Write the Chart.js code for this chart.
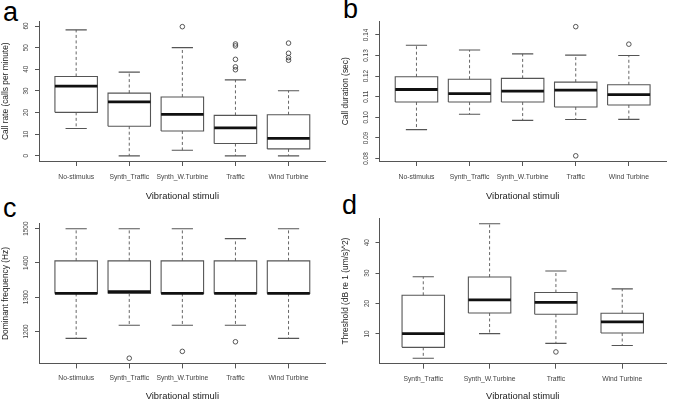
<!DOCTYPE html>
<html><head><meta charset="utf-8">
<script src="https://cdn.jsdelivr.net/npm/chart.js@4"></script>
<style>
html,body{margin:0;padding:0;background:#fff;width:685px;height:403px;overflow:hidden;position:relative;font-family:"Liberation Sans",Arial,sans-serif}
canvas{position:absolute}
.lbl{position:absolute;font-size:27px;line-height:1;color:#000;font-family:"Liberation Sans",Arial,sans-serif}
</style></head><body>
<div class="lbl" style="left:3px;top:-1px">a</div>
<div class="lbl" style="left:343px;top:-4px">b</div>
<div class="lbl" style="left:3px;top:195px">c</div>
<div class="lbl" style="left:342px;top:192px">d</div>
<canvas id="ca" width="335" height="203" style="left:0;top:0"></canvas>
<canvas id="cb" width="345" height="203" style="left:340px;top:0"></canvas>
<canvas id="cc" width="335" height="200" style="left:0;top:203px"></canvas>
<canvas id="cd" width="345" height="200" style="left:340px;top:203px"></canvas>
<script>
// ---------- data ----------
const stimuli5 = ["No-stimulus", "Synth_Traffic", "Synth_W.Turbine", "Traffic", "Wind Turbine"];
const stimuli4 = ["Synth_Traffic", "Synth_W.Turbine", "Traffic", "Wind Turbine"];

// (a) call rate
const rateMin = [12.6, 0, 2.6, 0, 0];
const rateQ1  = [20.1, 13.7, 11.5, 5.7, 3.2];
const rateMed = [32.2, 24.9, 19.2, 12.9, 8.1];
const rateQ3  = [36.7, 29.0, 27.2, 18.7, 19.0];
const rateMax = [58.2, 38.7, 50.0, 35.1, 30.1];
const rateOut = [[], [], [59.7], [51.7, 50.8, 44.6, 41.1, 39.8], [52.1, 47.4, 45.4, 44.2]];
const rateTicks = [0, 10, 20, 30, 40, 50, 60];

// (b) call duration
const durMin = [0.0940, 0.1015, 0.0985, 0.0989, 0.0990];
const durQ1  = [0.1074, 0.1074, 0.1074, 0.1050, 0.1060];
const durMed = [0.1135, 0.1115, 0.1127, 0.1132, 0.1110];
const durQ3  = [0.1197, 0.1185, 0.1189, 0.1171, 0.1158];
const durMax = [0.1350, 0.1327, 0.1308, 0.1302, 0.1300];
const durOut = [[], [], [], [0.1440, 0.0813], [0.1355]];
const durTicks = [0.08, 0.09, 0.10, 0.11, 0.12, 0.13, 0.14];

// (c) dominant frequency
const freqMin = [1180, 1218, 1218, 1218, 1180];
const freqQ1  = [1311, 1311, 1311, 1311, 1311];
const freqMed = [1311, 1316.5, 1311, 1311, 1311];
const freqQ3  = [1406, 1406, 1406, 1406, 1406];
const freqMax = [1500, 1500, 1500, 1471, 1500];
const freqOut = [[], [1122], [1142], [1170], []];
const freqTicks = [1200, 1300, 1400, 1500];

// (d) threshold
const thrMin = [2.0, 10.1, 6.9, 6.2];
const thrQ1  = [5.6, 16.9, 16.5, 10.3];
const thrMed = [10.1, 21.2, 20.4, 14.0];
const thrQ3  = [22.7, 28.7, 23.6, 16.8];
const thrMax = [28.8, 46.2, 30.7, 24.8];
const thrOut = [[], [], [4.1], []];
const thrTicks = [10, 20, 30, 40];

// ---------- drawing ----------
const FAM = "'Liberation Sans', Arial, sans-serif";
const AX = '#555';

function boxplot(id, cats, mn, q1, md, q3, mx, outs, cfg) {
  const hw = cfg.boxHalf, cw = cfg.boxHalf / 2;
  const box = [], med = [], wh = [], cap = [], out = [];
  cats.forEach((c, i) => {
    const x = i + 1;
    box.push({x: x - hw, y: q1[i]}, {x: x + hw, y: q1[i]}, {x: x + hw, y: q3[i]},
             {x: x - hw, y: q3[i]}, {x: x - hw, y: q1[i]}, {x: x, y: null});
    med.push({x: x - hw, y: md[i]}, {x: x + hw, y: md[i]}, {x: x, y: null});
    wh.push({x: x, y: q3[i]}, {x: x, y: mx[i]}, {x: x, y: null},
            {x: x, y: q1[i]}, {x: x, y: mn[i]}, {x: x, y: null});
    cap.push({x: x - cw, y: mx[i]}, {x: x + cw, y: mx[i]}, {x: x, y: null},
             {x: x - cw, y: mn[i]}, {x: x + cw, y: mn[i]}, {x: x, y: null});
    outs[i].forEach(v => out.push({x: x, y: v}));
  });
  const line = {showLine: true, spanGaps: false, pointRadius: 0, fill: false, tension: 0};
  new Chart(document.getElementById(id), {
    type: 'scatter',
    data: {datasets: [
      Object.assign({data: med, borderColor: '#111', borderWidth: 2.8, order: 1, borderCapStyle: 'butt'}, line),
      Object.assign({data: box, borderColor: '#555', borderWidth: 1.1, order: 2, borderJoinStyle: 'miter'}, line),
      Object.assign({data: cap, borderColor: '#555', borderWidth: 1.1, order: 3}, line),
      Object.assign({data: wh, borderColor: '#666', borderWidth: 1, borderDash: [3, 2.5], order: 4}, line),
      {data: out, showLine: false, pointRadius: 2.3, pointStyle: 'circle', borderColor: '#444',
       backgroundColor: 'rgba(0,0,0,0)', pointBorderWidth: 0.9, borderWidth: 0.9, order: 5}
    ]},
    options: {
      responsive: false, animation: false, events: [],
      layout: {padding: {top: cfg.top, right: cfg.right, left: 0, bottom: 0}},
      plugins: {legend: {display: false}, tooltip: {enabled: false}},
      scales: {
        x: {
          type: 'linear', min: cfg.xmin, max: cfg.xmax,
          afterBuildTicks: s => { s.ticks = cats.map((c, i) => ({value: i + 1})); },
          afterFit: s => { s.height = cfg.xh; },
          grid: {display: true, drawOnChartArea: false, drawTicks: true, tickLength: 5, color: AX, lineWidth: 1},
          border: {display: true, color: AX, width: 1},
          ticks: {autoSkip: false, maxRotation: 0, minRotation: 0, padding: cfg.xpad, color: '#444',
                  font: {size: 6.8, family: FAM}, callback: v => cats[Math.round(v) - 1]},
          title: {display: true, text: 'Vibrational stimuli', color: '#222',
                  font: {size: 9.4, family: FAM}, padding: {top: 0, bottom: cfg.xtpad}}
        },
        y: {
          type: 'linear', min: cfg.ymin, max: cfg.ymax,
          afterBuildTicks: s => { s.ticks = cfg.ticks.map(v => ({value: v})); },
          afterFit: s => { s.width = cfg.yw; },
          grid: {display: true, drawOnChartArea: false, drawTicks: true, tickLength: 4, color: AX, lineWidth: 1},
          border: {display: true, color: AX, width: 1},
          ticks: {minRotation: 90, maxRotation: 90, crossAlign: 'center', padding: cfg.ypad, color: '#444',
                  font: {size: 6.4, family: FAM}, callback: v => cfg.fmt(v)},
          title: {display: true, text: cfg.ytitle, color: '#222',
                  font: {size: 8.4, family: FAM}, padding: {top: 1, bottom: 0}}
        }
      }
    }
  });
}

boxplot('ca', stimuli5, rateMin, rateQ1, rateMed, rateQ3, rateMax, rateOut, {
  boxHalf: 0.4, xmin: 0.3, xmax: 5.7, ymin: -2.39, ymax: 62.09, ticks: rateTicks, fmt: v => String(v),
  top: 21.5, right: 9.3, yw: 39, xh: 42, xpad: 7, xtpad: 0.8, ypad: 5.5, ytitle: 'Call rate (calls per minute)'
});
boxplot('cb', stimuli5, durMin, durQ1, durMed, durQ3, durMax, durOut, {
  boxHalf: 0.4, xmin: 0.3, xmax: 5.7, ymin: 0.07879, ymax: 0.14651, ticks: durTicks, fmt: v => v.toFixed(2),
  top: 21.5, right: 19, yw: 39.3, xh: 42, xpad: 7, xtpad: 0.8, ypad: 3, ytitle: 'Call duration (sec)'
});
boxplot('cc', stimuli5, freqMin, freqQ1, freqMed, freqQ3, freqMax, freqOut, {
  boxHalf: 0.4, xmin: 0.3, xmax: 5.7, ymin: 1106.9, ymax: 1515.1, ticks: freqTicks, fmt: v => String(v),
  top: 20.5, right: 9.3, yw: 39, xh: 39.6, xpad: 6, xtpad: 1.3, ypad: 2, ytitle: 'Dominant frequency (Hz)'
});
boxplot('cd', stimuli4, thrMin, thrQ1, thrMed, thrQ3, thrMax, thrOut, {
  boxHalf: 0.32, xmin: 0.34, xmax: 4.66, ymin: 0.23, ymax: 47.97, ticks: thrTicks, fmt: v => String(v),
  top: 15.4, right: 19, yw: 39.5, xh: 39.3, xpad: 6, xtpad: 1.3, ypad: 4.3, ytitle: 'Threshold (dB re 1 (um/s)^2)'
});
</script>
</body></html>
